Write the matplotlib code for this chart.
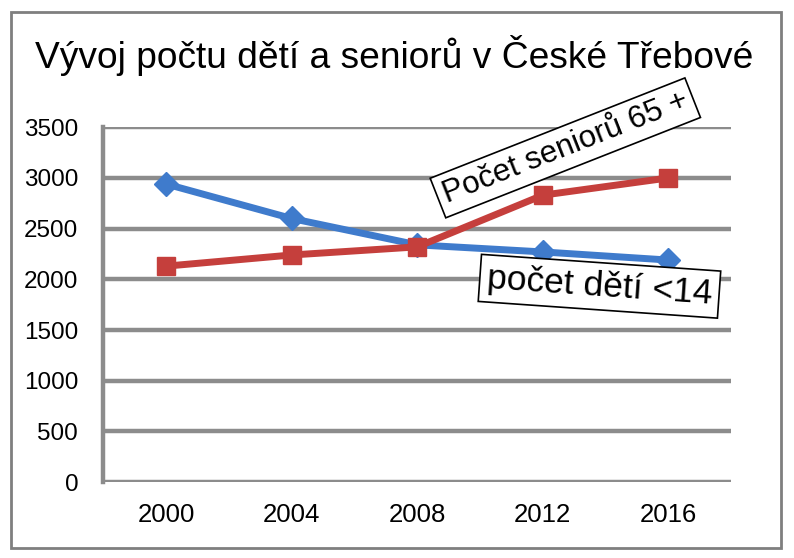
import matplotlib
matplotlib.use("Agg")
import matplotlib.pyplot as plt
from matplotlib.patches import Rectangle

plt.rcParams['font.family'] = ['Liberation Sans', 'DejaVu Sans']

# ----------------------------------------- DATA -----------------------------------------
years = ['2000', '2004', '2008', '2012', '2016']
deti = [2940, 2600, 2340, 2270, 2190]
seniori = [2130, 2240, 2320, 2830, 3000]
y_ticks = [0, 500, 1000, 1500, 2000, 2500, 3000, 3500]

title = 'Vývoj počtu dětí a seniorů v České Třebové'
label_seniori = 'Počet seniorů 65 +'
label_deti = 'počet dětí <14'

# ----------------------------------------- PLOT -----------------------------------------
fig = plt.figure(figsize=(7.94, 5.58), dpi=100)
fig.patches.append(Rectangle((0.014, 0.018), 0.970, 0.960, transform=fig.transFigure,
                             fill=False, edgecolor='#7f7f7f', linewidth=2))

ax = fig.add_axes([0.130, 0.136, 0.791, 0.636])
x = range(len(years))

for y in y_ticks:
    ax.axhline(y, color='#8c8c8c', linewidth=3.2, zorder=1)

ax.plot(x, deti, color='#3f7bcc', linewidth=5, marker='D', markersize=12,
        zorder=3, solid_joinstyle='round')
ax.plot(x, seniori, color='#c53f3c', linewidth=5, marker='s', markersize=13,
        zorder=4, solid_joinstyle='round')

ax.set_xlim(-0.5, len(years) - 0.5)
ax.set_ylim(0, 3500)
ax.set_xticks(list(x))
ax.set_xticklabels(years, fontsize=18.5)
ax.set_yticks(y_ticks)
ax.set_yticklabels([str(v) for v in y_ticks], fontsize=17.5)
ax.tick_params(length=0, colors='black')
ax.tick_params(axis='x', pad=15)
ax.tick_params(axis='y', pad=18)

for side in ['top', 'right', 'bottom']:
    ax.spines[side].set_visible(False)
ax.spines['left'].set_color('#8c8c8c')
ax.spines['left'].set_linewidth(3.2)

fig.text(0.497, 0.900, title, ha='center', va='center', fontsize=26.7)

box = dict(boxstyle='square,pad=0.2', facecolor='white', edgecolor='black', linewidth=1.2)
fig.text(0.712, 0.735, label_seniori, ha='center', va='center', fontsize=22.5,
         rotation=21.5, bbox=box, rotation_mode='anchor')
fig.text(0.755, 0.487, label_deti, ha='center', va='center', fontsize=25.5,
         rotation=-4, bbox=box, rotation_mode='anchor')

fig.savefig('out.png', dpi=100)
